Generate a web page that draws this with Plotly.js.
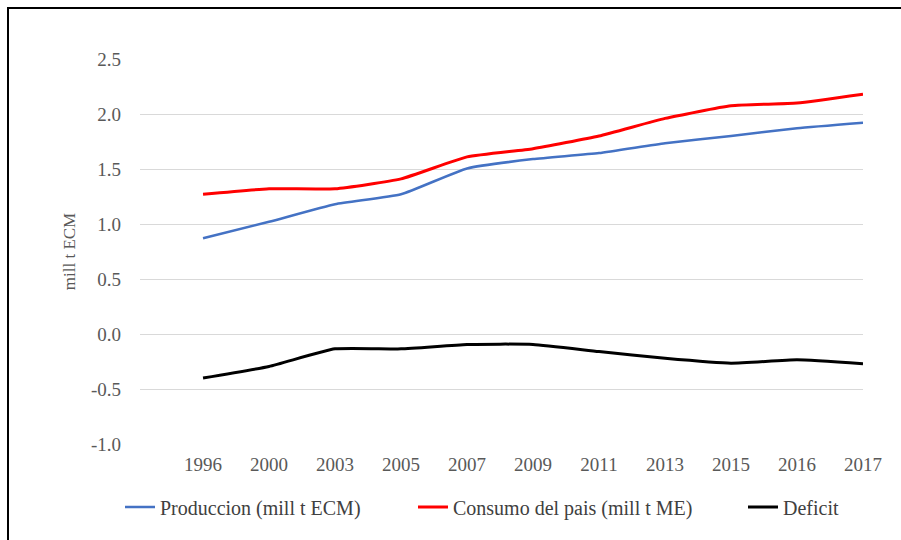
<!DOCTYPE html>
<html><head><meta charset="utf-8">
<script src="https://cdn.plot.ly/plotly-3.0.1.min.js"></script>
<style>
html,body{margin:0;padding:0;background:#fff;overflow:hidden}
#chart{position:absolute;left:0;top:0;width:901px;height:540px}
#frame{position:absolute;left:7px;top:7px;width:900px;height:540px;border-left:2px solid #000;border-top:2px solid #000;box-sizing:border-box;pointer-events:none;z-index:2}
</style></head><body>
<div id="chart"></div><div id="frame"></div>
<script>
const years = ['1996','2000','2003','2005','2007','2009','2011','2013','2015','2016','2017'];
const produccion = [0.87, 1.02, 1.18, 1.27, 1.505, 1.59, 1.645, 1.735, 1.80, 1.87, 1.92];
const consumo = [1.27, 1.32, 1.32, 1.41, 1.61, 1.685, 1.80, 1.96, 2.075, 2.10, 2.18];
const deficit = [-0.40, -0.295, -0.135, -0.135, -0.095, -0.095, -0.16, -0.22, -0.265, -0.235, -0.27];
const seriesNames = ['Produccion (mill t ECM)', 'Consumo del pais (mill t ME)', 'Deficit'];
const yTickVals = [-1.0, -0.5, 0.0, 0.5, 1.0, 1.5, 2.0, 2.5];
const yTickText = ['-1.0', '-0.5', '0.0', '0.5', '1.0', '1.5', '2.0', '2.5'];

const serif = '"Liberation Serif", "Times New Roman", serif';
const mk = (y, name, color, w, lw) => ({
  x: years, y: y, name: name, type: 'scatter', mode: 'lines',
  line: {color: color, width: w, shape: 'spline', smoothing: 0.45},
  legendwidth: lw,
  hoverinfo: 'x+y'
});
const data = [
  mk(produccion, seriesNames[0], '#4472C4', 2.5, 248),
  mk(consumo, seriesNames[1], '#FF0000', 3, 285),
  mk(deficit, seriesNames[2], '#000000', 3, undefined)
];
const layout = {
  width: 901, height: 540,
  margin: {l: 140, r: 38, t: 59, b: 96},
  paper_bgcolor: '#fff', plot_bgcolor: '#fff',
  font: {family: serif, color: '#595959', size: 19},
  showlegend: true,
  legend: {
    orientation: 'h', xref: 'container', yref: 'container',
    x: 120/901, xanchor: 'left', y: 1 - 507/540, yanchor: 'middle',
    font: {family: serif, size: 20, color: '#404040'},
    traceorder: 'normal', itemwidth: 30
  },
  xaxis: {
    type: 'category', range: [-0.955, 10], showgrid: false, zeroline: false,
    showline: false, ticks: '', tickfont: {family: serif, size: 19, color: '#595959'},
    ticklabelstandoff: 7, fixedrange: true
  },
  yaxis: {
    range: [-1, 2.5], tickvals: yTickVals, ticktext: yTickText,
    showgrid: true, gridcolor: '#d9d9d9', gridwidth: 1,
    zeroline: false, showline: false, ticks: '',
    tickfont: {family: serif, size: 19, color: '#595959'},
    ticklabelstandoff: 18,
    title: {text: 'mill t ECM', font: {family: serif, size: 17, color: '#595959'}, standoff: 10},
    fixedrange: true
  }
};
Plotly.newPlot('chart', data, layout, {displayModeBar: false, staticPlot: true});
</script></body></html>
